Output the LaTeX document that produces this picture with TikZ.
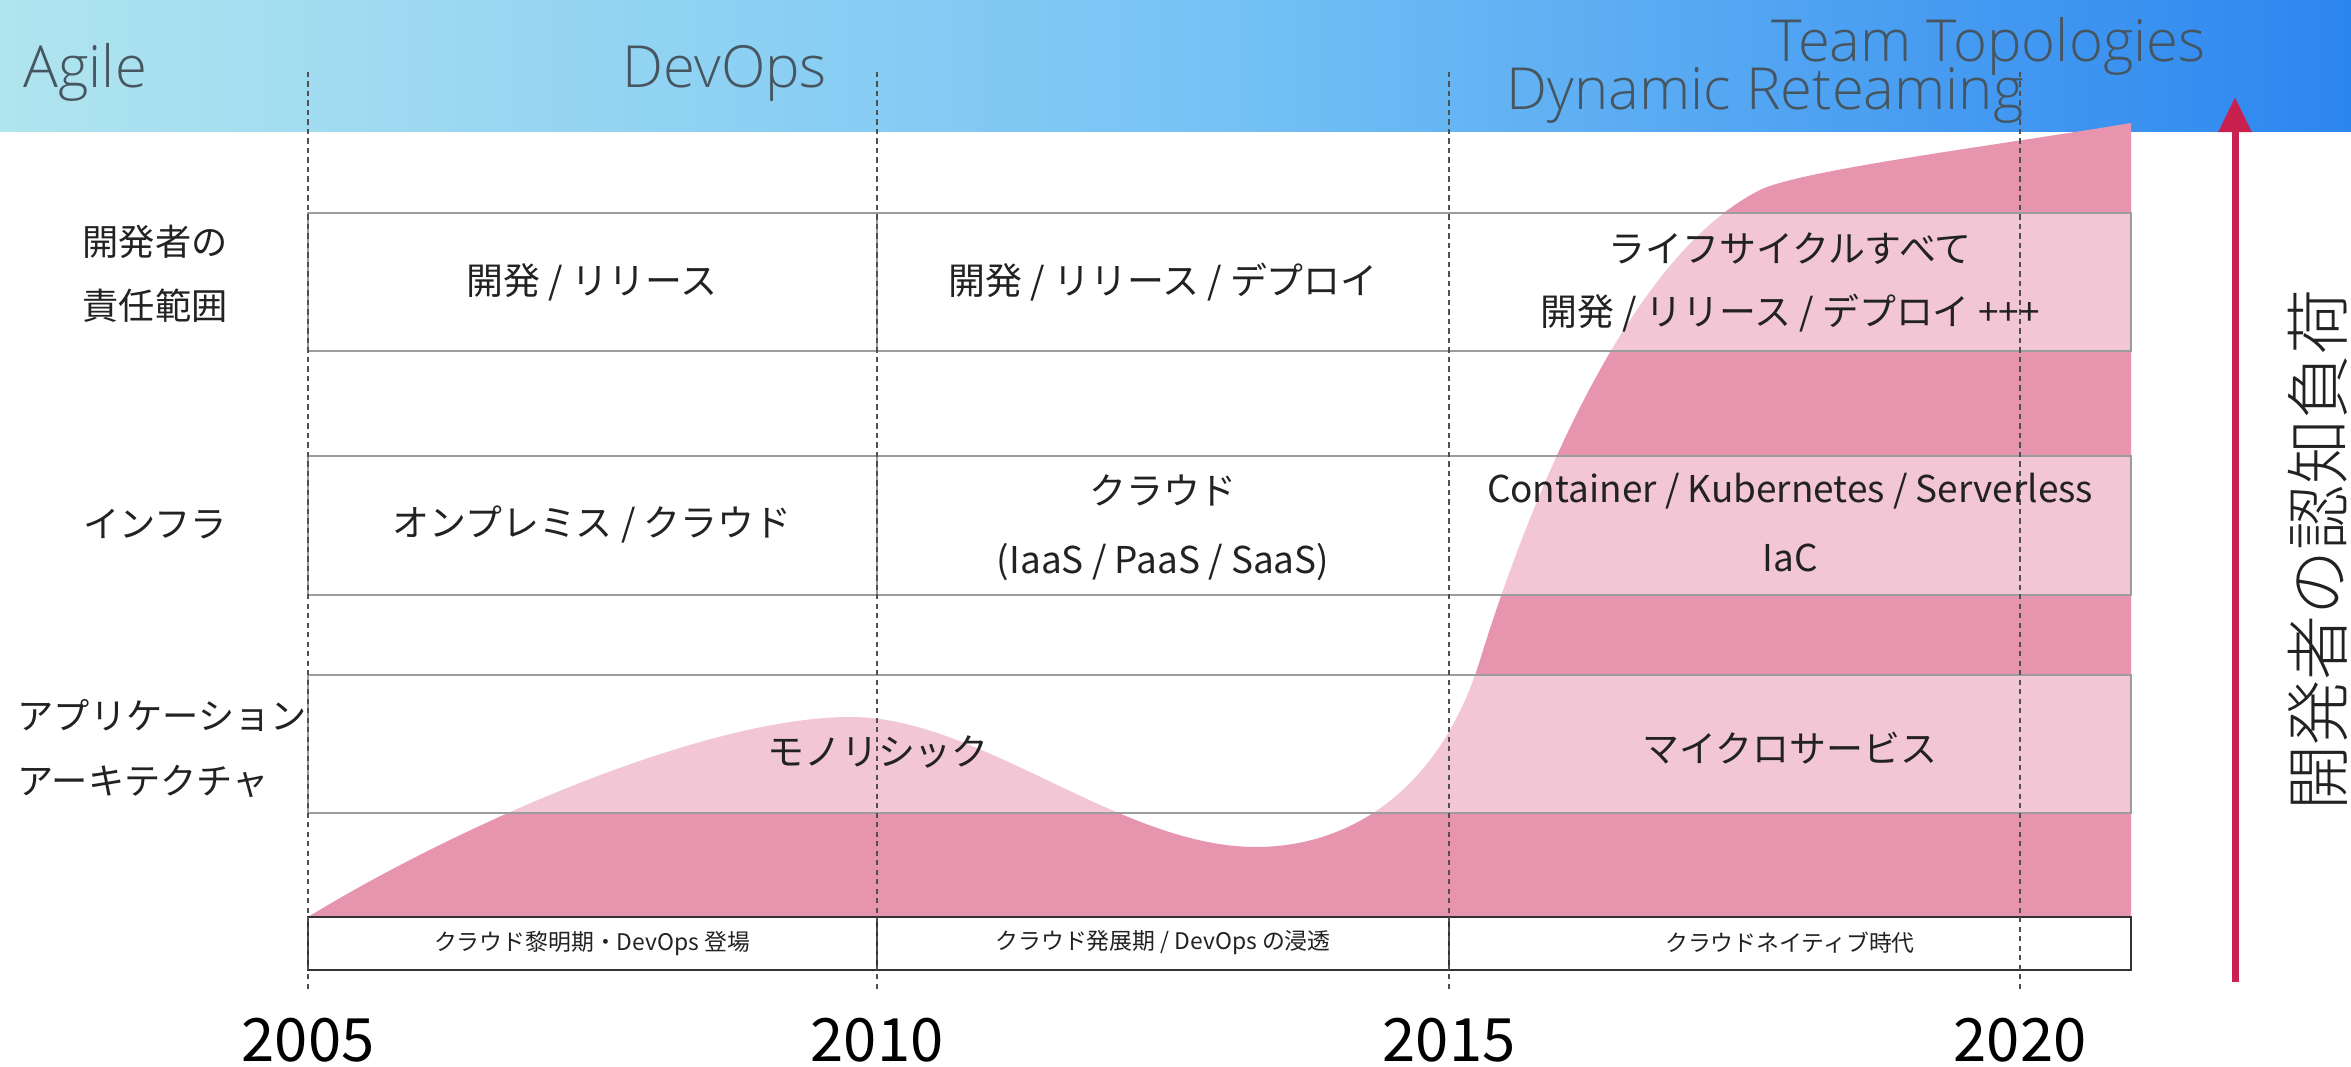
\documentclass[tikz,border=0pt]{standalone}
\usepackage{fontspec}
\setmainfont{Noto Sans CJK JP}
\newfontfamily\headfont{Open Sans}[UprightFont=* Light]
\newfontfamily\axisfont{Noto Sans CJK JP}[UprightFont=* Light]
\usetikzlibrary{arrows.meta}

\definecolor{bandL}{HTML}{B0E5EF}
\definecolor{bandM}{HTML}{78C4F5}
\definecolor{bandR}{HTML}{2C86EF}
\definecolor{loadpink}{HTML}{E795AF}
\definecolor{arrowred}{HTML}{C8204F}
\definecolor{headink}{HTML}{46555F}
\definecolor{rowline}{HTML}{9C9C9C}
\definecolor{gridink}{HTML}{505050}
\definecolor{cellink}{HTML}{222222}

\tikzset{
  headtext/.style={font=\headfont\fontsize{16.5}{19}\selectfont, text=headink, inner sep=0pt, anchor=base west},
  celltext/.style={font=\fontsize{10.5}{12}\selectfont, text=cellink, inner sep=0pt},
  sidelabel/.style={font=\fontsize{10.3}{12}\selectfont, text=cellink, inner sep=0pt},
  eratext/.style={font=\fontsize{6.5}{8}\selectfont, text=cellink, inner sep=0pt},
  yeartext/.style={font=\fontsize{17}{20}\selectfont, text=black, inner sep=0pt},
  axislabel/.style={font=\axisfont\fontsize{18.5}{21}\selectfont, text=cellink, rotate=90, inner sep=0pt},
  rowbox/.style={draw=rowline, line width=0.55pt, fill=white, fill opacity=0.47},
  erabox/.style={draw=black!80, line width=0.6pt, fill=white},
  gridrule/.style={draw=gridink, line width=0.4pt, dash pattern=on 1.5pt off 1.2pt},
  celldivider/.style={draw=rowline, line width=0.5pt},
  loadarrow/.style={draw=arrowred, line width=2pt, -{Triangle[length=10pt, width=9pt]}}
}

\begin{document}
\begin{tikzpicture}[x=0.01cm, y=-0.01cm]
\useasboundingbox (0,0) rectangle (2351,1067);
\fill[white] (0,0) rectangle (2351,1067);

% header band
\shade[left color=bandL, right color=bandR, middle color=bandM] (0,0) rectangle (2351,132);

% cognitive load area
\fill[loadpink] (308,917) .. controls (450,830) and (700,717) .. (851,717)
  .. controls (980,717) and (1120,847) .. (1256,847)
  .. controls (1350,847) and (1440,790) .. (1480,660)
  .. controls (1520,530) and (1620,260) .. (1760,190)
  .. controls (1800,170) and (2000,145) .. (2131,123)
  -- (2131,917) -- cycle;

% rows
\path[rowbox] (308,213) rectangle (2131,351);
\path[rowbox] (308,456) rectangle (2131,595);
\path[rowbox] (308,675) rectangle (2131,813);
\draw[celldivider] (877,213) -- (877,351);
\draw[celldivider] (877,456) -- (877,595);

% era strip
\path[erabox] (308,917) rectangle (2131,970);
\draw[black!80, line width=0.6pt] (877,917) -- (877,970) (1449,917) -- (1449,970);

% year rules
\foreach \gx in {308,877,1449,2020}
  \draw[gridrule] (\gx,72) -- (\gx,990);

% header labels
\node[headtext] (agile) at (23,88) {Agile};
\node[headtext] (devops) at (622,88) {DevOps};
\node[headtext] (teamtopo) at (1771,62) {Team Topologies};
\node[headtext] (reteam) at (1506,110) {Dynamic Reteaming};

% row labels
\node[sidelabel] (resp1) at (155,242) {開発者の};
\node[sidelabel] (resp2) at (155,306) {責任範囲};
\node[sidelabel] (infra) at (155,524) {インフラ};
\node[sidelabel, anchor=west] (arch1) at (17,715) {アプリケーション};
\node[sidelabel, anchor=west] (arch2) at (17,782) {アーキテクチャ};

% responsibility row
\node[celltext] (respA) at (592,282) {開発 / リリース};
\node[celltext] (respB) at (1163,282) {開発 / リリース / デプロイ};
\node[celltext] (respC1) at (1790,249) {ライフサイクルすべて};
\node[celltext] (respC2) at (1790,313) {開発 / リリース / デプロイ +++};

% infrastructure row
\node[celltext] (infraA) at (592,524) {オンプレミス / クラウド};
\node[celltext] (infraB1) at (1163,490) {クラウド};
\node[celltext] (infraB2) at (1163,562) {(IaaS / PaaS / SaaS)};
\node[celltext] (infraC1) at (1790,491) {Container / Kubernetes / Serverless};
\node[celltext] (infraC2) at (1790,558) {IaC};

% architecture row
\node[celltext] (archAB) at (878,752) {モノリシック};
\node[celltext] (archC) at (1790,748) {マイクロサービス};

% era labels
\node[eratext] (era1) at (592,943) {クラウド黎明期・DevOps 登場};
\node[eratext] (era2) at (1163,943) {クラウド発展期 / DevOps の浸透};
\node[eratext] (era3) at (1790,943) {クラウドネイティブ時代};

% years
\node[yeartext] (y2005) at (308,1040) {2005};
\node[yeartext] (y2010) at (877,1040) {2010};
\node[yeartext] (y2015) at (1449,1040) {2015};
\node[yeartext] (y2020) at (2020,1040) {2020};

% cognitive load axis
\coordinate (loadBase) at (2235,982);
\coordinate (loadTop) at (2235,97);
\draw[loadarrow] (loadBase) -- (loadTop);
\node[axislabel] (loadlabel) at (2318,550) {開発者の認知負荷};
\end{tikzpicture}
\end{document}
